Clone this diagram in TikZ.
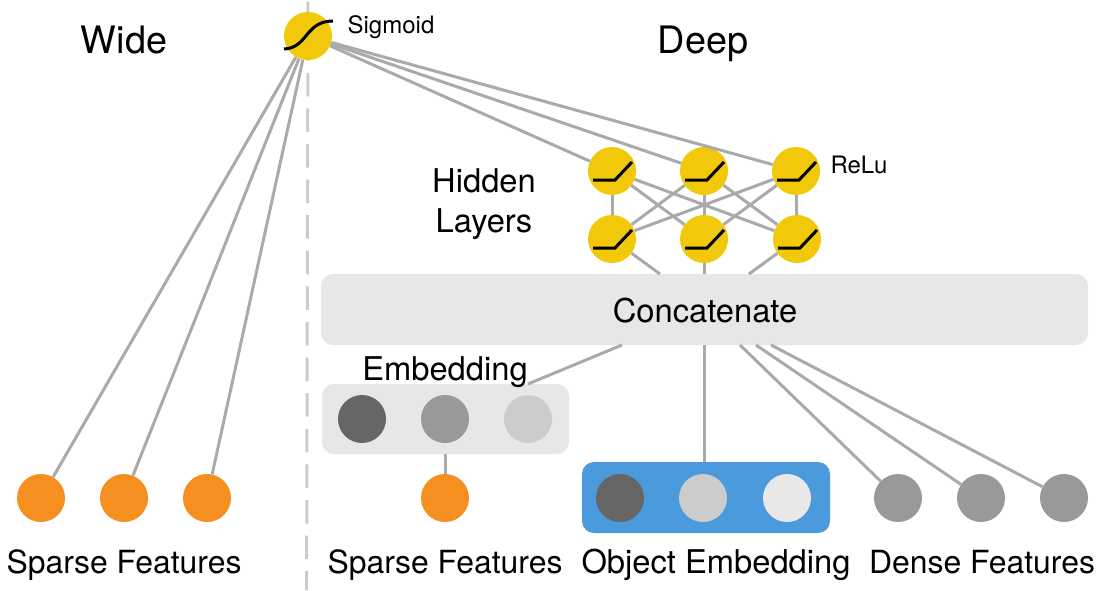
\documentclass[tikz,border=0pt]{standalone}
\usepackage{fontspec}
\setmainfont{TeX Gyre Heros}
\definecolor{yel}{HTML}{F1C90A}
\definecolor{org}{HTML}{F48F20}
\definecolor{lin}{HTML}{AAAAAA}
\definecolor{pan}{HTML}{E7E7E7}
\definecolor{blu}{HTML}{4A9ADC}
\definecolor{dk}{HTML}{666666}
\definecolor{md}{HTML}{999999}
\definecolor{lt}{HTML}{CCCCCC}
\definecolor{vl}{HTML}{E8E8E8}
\tikzset{
  dot/.style={circle,inner sep=0pt,minimum size=48pt,fill=#1,draw=none},
  conn/.style={draw=lin,line width=3pt},
  curve/.style={draw=black,line width=3pt},
  panel/.style={rectangle,rounded corners=12pt,draw=none,fill=#1},
  big/.style={font=\fontsize{37.8}{42}\selectfont,text=black,inner sep=0pt,anchor=base},
  mid/.style={font=\fontsize{32.7}{40}\selectfont,text=black,inner sep=0pt,anchor=base},
  caption/.style={font=\fontsize{31.9}{40}\selectfont,text=black,inner sep=0pt,anchor=base},
  small/.style={font=\fontsize{24}{27}\selectfont,text=black,inner sep=0pt,anchor=base},
}
\newcommand{\relucurve}[1]{\draw[curve] ([shift={(-19pt,-9pt)}]#1.center) -- ([shift={(3pt,-9pt)}]#1.center) -- ([shift={(20pt,9pt)}]#1.center);}
\begin{document}
\begin{tikzpicture}[x=1pt,y=-1pt]
\useasboundingbox (0,0) rectangle (1102,590);
% divider
\coordinate (divtop) at (308,0);
\coordinate (divbot) at (306.6,590);
\draw[draw=lt,line width=3pt,dash pattern=on 23.5pt off 12.1pt,dash phase=34pt] (divtop) -- (divbot);
% panels
\node[panel=pan,minimum width=767pt,minimum height=71pt] (concat) at (704.5,309.5) {};
\node[panel=pan,minimum width=247pt,minimum height=70pt] (embbox) at (445.5,419) {};
\node[panel=blu,minimum width=248pt,minimum height=71pt] (objbox) at (706,497.5) {};
% dots
\node[dot=yel] (sig) at (308,36) {};
\node[dot=yel] (h1) at (612,171) {};
\node[dot=yel] (h2) at (704,171) {};
\node[dot=yel] (h3) at (796,171) {};
\node[dot=yel] (l1) at (612,239) {};
\node[dot=yel] (l2) at (704,239) {};
\node[dot=yel] (l3) at (797,239) {};
\node[dot=dk] (e1) at (362,419) {};
\node[dot=md] (e2) at (445,419) {};
\node[dot=lt] (e3) at (528,419) {};
\node[dot=org] (s0) at (445,498) {};
\node[dot=dk] (o1) at (620,498) {};
\node[dot=lt] (o2) at (703,498) {};
\node[dot=vl] (o3) at (787,498) {};
\node[dot=md] (d1) at (898,498) {};
\node[dot=md] (d2) at (981,498) {};
\node[dot=md] (d3) at (1064,498) {};
\node[dot=org] (w1) at (41,498) {};
\node[dot=org] (w2) at (124,498) {};
\node[dot=org] (w3) at (207,498) {};
% free ends on the panels
\coordinate (ca) at (660,274);
\coordinate (cb) at (704,274);
\coordinate (cc) at (749,274);
\coordinate (cd) at (622,345);
\coordinate (ce) at (528,384);
\coordinate (cf) at (704,345);
\coordinate (cg) at (704,462);
\coordinate (ch) at (740,345);
\coordinate (ci) at (756,345);
\coordinate (cj) at (771,345);
\coordinate (ck) at (445,454);
% connectors
\draw[conn] (sig) -- (w1);
\draw[conn] (sig) -- (w2);
\draw[conn] (sig) -- (w3);
\draw[conn] (sig) -- (h1);
\draw[conn] (sig) -- (h2);
\draw[conn] (sig) -- (h3);
\foreach \a in {h1,h2,h3}{\foreach \b in {l1,l2,l3}{\draw[conn] (\a) -- (\b);}}
\draw[conn] (l1) -- (ca);
\draw[conn] (l2) -- (cb);
\draw[conn] (l3) -- (cc);
\draw[conn] (cd) -- (ce);
\draw[conn] (cf) -- (cg);
\draw[conn] (ch) -- (d1);
\draw[conn] (ci) -- (d2);
\draw[conn] (cj) -- (d3);
\draw[conn] (s0) -- (ck);
% curves
\draw[curve] (284,49) .. controls (308,48) and (305,21) .. (333,21);
\relucurve{h1}\relucurve{h2}\relucurve{h3}\relucurve{l1}\relucurve{l2}\relucurve{l3}
% labels
\node[big] (twide) at (124,53) {Wide};
\node[big] (tdeep) at (703,53) {Deep};
\node[small] (tsig) at (391,33) {Sigmoid};
\node[small] (trelu) at (859,173) {ReLu};
\node[mid] (thid) at (484,192) {Hidden};
\node[mid] (tlay) at (484,232) {Layers};
\node[mid] (tcon) at (705,322) {Concatenate};
\node[mid] (temb) at (445,380) {Embedding};
\node[caption] (tsf1) at (124,573) {Sparse Features};
\node[caption] (tsf2) at (445,573) {Sparse Features};
\node[mid] (tobj) at (716,573) {Object Embedding};
\node[caption] (tdf) at (982,573) {Dense Features};
\end{tikzpicture}
\end{document}
